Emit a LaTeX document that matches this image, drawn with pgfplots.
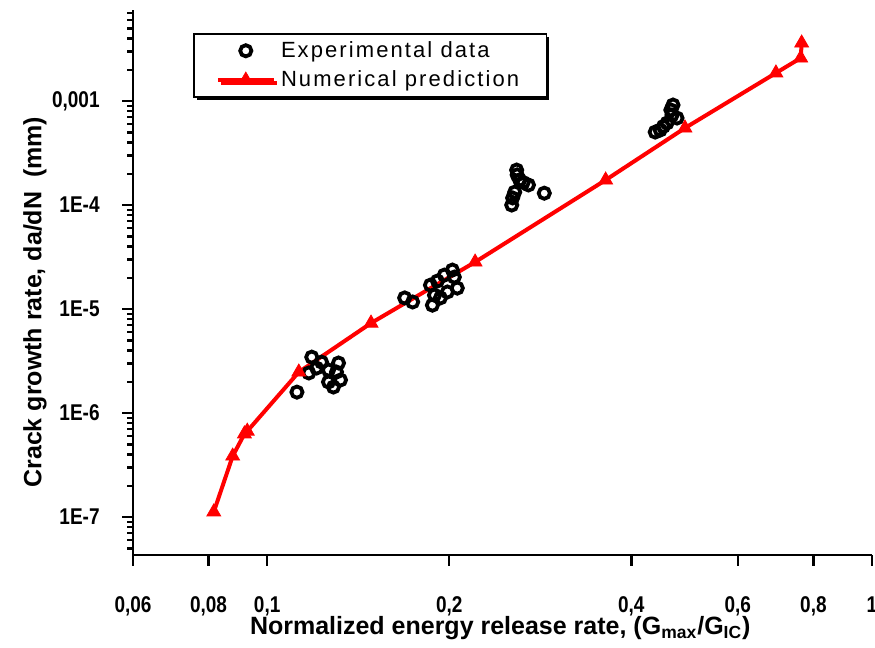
\documentclass[border=0pt]{standalone}
\usepackage{fontspec}
\setmainfont{Liberation Sans}
\usepackage{graphicx}
\usepackage{pgfplots}
\pgfplotsset{compat=1.18}
\usetikzlibrary{calc,shadows}
\newcommand\tl[1]{\scalebox{1}[1.2]{\bfseries #1}}
\pgfplotsset{myleg/.style={legend image code/.code={\draw[##1, mark repeat=2, mark phase=2] plot coordinates {(0pt,0pt) (14pt,0pt) (28pt,0pt)};}}}
\begin{document}
\begin{tikzpicture}
\begin{axis}[
  scale only axis, width=369.5pt, height=272.5pt,
  xmode=log, ymode=log,
  xmin=0.06, xmax=1, ymin=4.32e-8, ymax=7.5e-3,
  axis x line*=bottom, axis y line*=left,
  axis line style={-, line width=1.4pt},
  xtick pos=bottom, ytick pos=left,
  tick align=outside, major tick length=5.5pt, minor tick length=3pt,
  every tick/.style={draw=black, line width=1.2pt},
  xtick={0.06,0.08,0.1,0.2,0.4,0.6,0.8,1},
  xticklabels={\tl{0,06},\tl{0,08},\tl{0,1},\tl{0,2},\tl{0,4},\tl{0,6},\tl{0,8},\tl{1}},
  xminorticks=false,
  ytick={1e-7,1e-6,1e-5,1e-4,1e-3},
  yticklabels={\tl{1E-7},\tl{1E-6},\tl{1E-5},\tl{1E-4},\tl{0,001}},
  yminorticks=true,
  minor ytick={5e-8,6e-8,7e-8,8e-8,9e-8,
    2e-7,3e-7,4e-7,5e-7,6e-7,7e-7,8e-7,9e-7,
    2e-6,3e-6,4e-6,5e-6,6e-6,7e-6,8e-6,9e-6,
    2e-5,3e-5,4e-5,5e-5,6e-5,7e-5,8e-5,9e-5,
    2e-4,3e-4,4e-4,5e-4,6e-4,7e-4,8e-4,9e-4,
    2e-3,3e-3,4e-3,5e-3,6e-3,7e-3},
  ticklabel style={font=\fontsize{9.5}{10}\selectfont},
  xticklabel style={anchor=north, inner sep=0pt, yshift=-15pt},
  yticklabel style={anchor=east, inner sep=0pt, xshift=-11pt},
  xlabel={Normalized energy release rate, (G\textsubscript{max}/G\textsubscript{IC})},
  ylabel={Crack growth rate, da/dN\ \ (mm)},
  label style={font=\bfseries\fontsize{12.5}{14}\selectfont},
  xlabel style={at={(rel axis cs:0.497,-0.134)}, anchor=center},
  ylabel style={at={(rel axis cs:-0.1327,0.464)}, anchor=center},
  legend style={at={(0.0812,0.958)}, anchor=north west, draw=black, line width=0.8pt,
    font=\fontsize{11}{12}\selectfont\addfontfeature{LetterSpace=9.5},
    inner xsep=11pt, inner ysep=1.2pt,
    drop shadow={shadow xshift=1.5pt, shadow yshift=-1.5pt, fill=black, opacity=1},
    cells={anchor=west}, nodes={inner sep=2.6pt}},
]
\addplot[only marks, mark=o, mark size=2.8pt, line width=1.9pt, black, myleg]
  table {
x y
0.1120 1.59e-6
0.1172 2.43e-6
0.1185 3.45e-6
0.1230 3.09e-6
0.1263 2.59e-6
0.1302 2.48e-6
0.1312 3.03e-6
0.1263 1.99e-6
0.1322 2.08e-6
0.1287 1.78e-6
0.1207 2.71e-6
0.1688 1.28e-5
0.1740 1.17e-5
0.1876 1.09e-5
0.1891 1.36e-5
0.1862 1.70e-5
0.1963 2.12e-5
0.2039 2.03e-5
0.2062 1.59e-5
0.1986 1.46e-5
0.1934 1.28e-5
0.1912 1.86e-5
0.2024 2.37e-5
0.2585 2.17e-4
0.2615 1.74e-4
0.2566 1.33e-4
0.2537 1.00e-4
0.2704 1.56e-4
0.2872 1.30e-4
0.2546 1.17e-4
0.2590 1.95e-4
0.2650 1.65e-4
0.4688 9.15e-4
0.4670 7.33e-4
0.4583 6.15e-4
0.4465 5.26e-4
0.4381 5.03e-4
0.4760 6.86e-4
0.4650 8.20e-4
0.4520 5.70e-4
};
\addlegendentry{Experimental data}
\addplot[red, line width=2pt, mark=triangle*, mark size=4pt, mark options={solid, line width=0.4pt}, myleg]
  table {
x y
0.0816 1.12e-7
0.0877 3.86e-7
0.0917 6.3e-7
0.0927 6.7e-7
0.1128 2.48e-6
0.1485 7.33e-6
0.2207 2.83e-5
0.3628 1.74e-4
0.4906 5.5e-4
0.6937 1.86e-3
0.7624 2.59e-3
0.7651 3.61e-3
};
\addlegendentry{Numerical prediction}
\coordinate (SW) at (rel axis cs:0,0);
\coordinate (NE) at (rel axis cs:1,1);
\end{axis}
\pgfresetboundingbox
\path ($(SW)+(-66.5pt,-46pt)$) rectangle ($(NE)+(1.5pt,5pt)$);
\end{tikzpicture}
\end{document}
